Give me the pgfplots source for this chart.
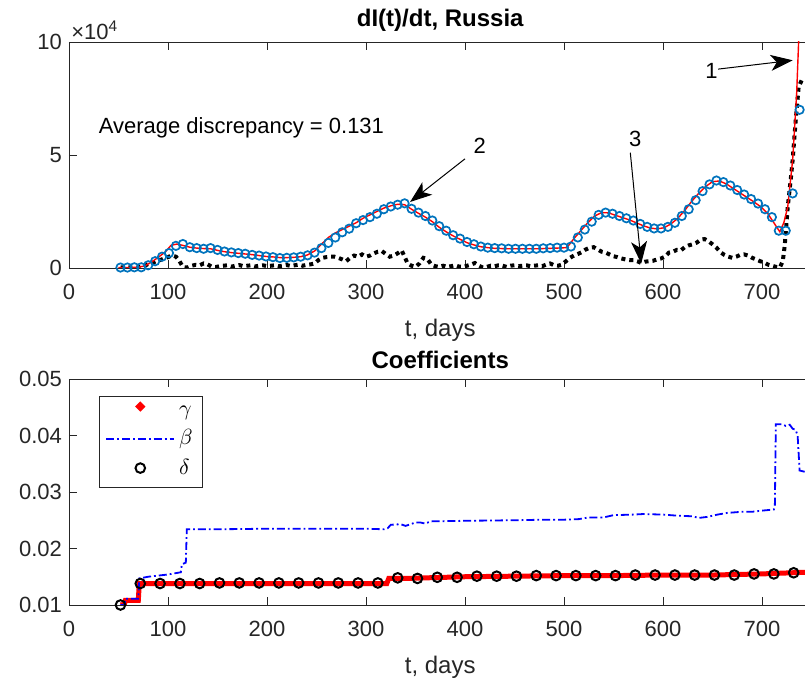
\documentclass[border=0pt]{standalone}
\usepackage{fontspec}
\setmainfont{Liberation Sans}
\usepackage{pgfplots}
\pgfplotsset{compat=1.18}
\usetikzlibrary{arrows.meta}
\definecolor{mblue}{rgb}{0.0,0.45,0.74}
\definecolor{axgray}{rgb}{0.15,0.15,0.15}

\pgfplotsset{
  myaxis/.style={
    scale only axis, width=371.25pt, height=113pt,
    xmin=0, xmax=750,
    xtick={0,100,200,300,400,500,600,700},
    ytick pos=left, xtick pos=both,
    axis line style={axgray, line width=0.4pt},
    tick style={axgray, line width=0.4pt},
    major tick length=4pt,
    minor tick num=0,
    tick label style={font=\fontsize{11}{13}\selectfont, text=axgray},
    xticklabel style={yshift=-4.5pt},
    /pgf/number format/assume math mode=true,
    label style={font=\fontsize{12}{14}\selectfont, text=axgray},
    xlabel style={yshift=-3pt},
    title style={font=\bfseries\fontsize{12}{14}\selectfont, yshift=-4.5pt},
    xlabel={t, days},
    anchor=south west,
    clip mode=individual,
    scaled ticks=false,
  }
}

\begin{document}
\begin{tikzpicture}
\begin{axis}[myaxis, at={(34.5pt,205.5pt)}, ymin=0, ymax=10, ytick={0,5,10},
  title={dI(t)/dt, Russia}]
% black dotted series
\addplot[black, line width=2pt, dash pattern=on 2pt off 2pt, line cap=butt] coordinates {
(52,0.03) (58,0.02) (64,0.03) (70,0.03) (76,0.08) (80,0.18) (84,0.22) (88,0.3) (92,0.35) (96,0.42) (100,0.48) (104,0.56) (108,0.5) (111,0.35) (114,0.12) (117,0.02) (120,0.03) (124,0.1) (128,0.14) (132,0.12) (136,0.2) (140,0.16) (144,0.06) (148,0.04) (152,0.08) (156,0.1) (160,0.12) (164,0.06) (168,0.1) (172,0.13) (176,0.08) (180,0.1) (184,0.12) (188,0.07) (192,0.1) (196,0.12) (200,0.08) (204,0.1) (208,0.12) (212,0.08) (216,0.1) (220,0.13) (224,0.09) (228,0.12) (232,0.15) (236,0.1) (240,0.14) (244,0.16) (248,0.2) (252,0.35) (256,0.45) (260,0.48) (264,0.5) (268,0.5) (272,0.45) (276,0.38) (280,0.3) (284,0.45) (288,0.55) (292,0.5) (296,0.6) (300,0.5) (304,0.55) (308,0.65) (312,0.72) (316,0.75) (320,0.62) (324,0.5) (328,0.55) (332,0.65) (336,0.78) (339,0.5) (342,0.2) (346,0.1) (350,0.05) (354,0.2) (358,0.45) (362,0.4) (366,0.15) (370,0.08) (374,0.05) (378,0.1) (382,0.05) (386,0.08) (390,0.12) (394,0.06) (398,0.05) (402,0.1) (406,0.15) (410,0.22) (414,0.1) (418,0.02) (422,0.05) (426,0.1) (430,0.08) (434,0.12) (438,0.1) (442,0.05) (446,0.1) (450,0.12) (454,0.08) (458,0.1) (462,0.12) (466,0.08) (470,0.1) (474,0.12) (478,0.08) (482,0.15) (486,0.2) (490,0.12) (494,0.1) (498,0.15) (502,0.3) (506,0.45) (510,0.55) (514,0.62) (518,0.7) (522,0.82) (526,0.9) (530,0.92) (534,0.82) (538,0.72) (542,0.68) (546,0.6) (550,0.52) (554,0.48) (558,0.42) (562,0.38) (566,0.35) (570,0.35) (574,0.3) (578,0.22) (582,0.28) (586,0.3) (590,0.32) (594,0.38) (598,0.42) (602,0.5) (606,0.68) (610,0.72) (614,0.8) (618,0.78) (622,0.92) (626,1.0) (630,1.05) (634,1.12) (638,1.25) (642,1.28) (646,1.18) (650,1.05) (654,0.9) (658,0.7) (662,0.58) (666,0.5) (670,0.45) (674,0.5) (678,0.58) (682,0.6) (686,0.55) (690,0.45) (694,0.38) (698,0.3) (702,0.25) (706,0.15) (710,0.1) (714,0.05) (718,0.02) (721,0.3) (723,1.0) (726,2.7) (729,3.9) (731,4.8) (734,6.5) (737,8.0) (740,8.3)
};
% red model line
\addplot[red, line width=0.7pt] coordinates {
(50,0.02) (60,0.02) (70,0.03) (77,0.1) (84,0.28) (91,0.5) (97,0.7) (103,1.0) (109,1.06) (115,1.0) (122,0.92) (129,0.88) (136,0.86) (143,0.85) (150,0.78) (157,0.72) (164,0.68) (171,0.65) (178,0.62) (185,0.59) (192,0.55) (199,0.51) (206,0.49) (213,0.46) (220,0.46) (227,0.47) (234,0.5) (241,0.58) (248,0.75) (255,1.05) (262,1.35) (269,1.55) (276,1.7) (283,1.85) (290,2.0) (297,2.2) (304,2.35) (311,2.5) (318,2.65) (325,2.75) (332,2.82) (339,2.8) (346,2.6) (353,2.42) (360,2.25) (367,2.05) (374,1.8) (381,1.6) (388,1.42) (395,1.27) (402,1.12) (409,1.02) (416,0.94) (423,0.9) (430,0.87) (444,0.85) (472,0.85) (493,0.88) (503,0.9) (510,1.3) (517,1.65) (524,2.0) (531,2.3) (538,2.45) (545,2.44) (552,2.33) (559,2.23) (566,2.13) (573,2.0) (580,1.87) (587,1.77) (594,1.73) (601,1.78) (608,1.95) (615,2.2) (622,2.55) (629,2.95) (636,3.3) (643,3.6) (650,3.82) (657,3.85) (664,3.72) (671,3.52) (678,3.32) (685,3.12) (692,2.92) (699,2.7) (706,2.4) (712,2.0) (718,1.6) (722,2.0) (726,2.7) (731,4.8) (735,7.7) (737,10) (742,14)
};
% blue circles data
\addplot[only marks, mark=o, mark size=2.1pt, mblue, mark options={line width=0.85pt}] coordinates {
(52,0.02) (59,0.02) (66,0.03) (73,0.03) (80,0.12) (87,0.3) (94,0.5) (101,0.66) (108,0.98) (115,1.06) (122,0.92) (129,0.88) (136,0.85) (143,0.88) (150,0.8) (157,0.73) (164,0.69) (171,0.66) (178,0.63) (185,0.58) (192,0.55) (199,0.51) (206,0.48) (213,0.44) (220,0.45) (227,0.47) (234,0.5) (241,0.56) (248,0.68) (255,0.88) (262,1.11) (269,1.35) (276,1.58) (283,1.74) (290,1.98) (297,2.12) (304,2.25) (311,2.4) (318,2.6) (325,2.72) (332,2.8) (339,2.86) (346,2.62) (353,2.45) (360,2.3) (367,2.1) (374,1.85) (381,1.65) (388,1.45) (395,1.3) (402,1.15) (409,1.05) (416,0.95) (423,0.9) (430,0.88) (437,0.87) (444,0.85) (451,0.85) (458,0.85) (465,0.85) (472,0.85) (479,0.87) (486,0.88) (493,0.9) (500,0.9) (507,0.95) (514,1.35) (521,1.7) (528,2.05) (535,2.35) (542,2.45) (549,2.4) (556,2.3) (563,2.2) (570,2.1) (577,1.95) (584,1.82) (591,1.75) (598,1.75) (605,1.82) (612,2.0) (619,2.3) (626,2.6) (633,3.0) (640,3.4) (647,3.7) (654,3.87) (661,3.8) (668,3.65) (675,3.45) (682,3.25) (689,3.05) (696,2.85) (703,2.6) (710,2.25) (717,1.65) (724,1.65) (731,3.3) (738,7.0)
};
\node[anchor=west, font=\fontsize{11}{13}\selectfont, text=black] at (axis cs:23,6.2) {Average discrepancy = 0.131};
\node[anchor=south west, font=\fontsize{11}{13}\selectfont, text=axgray, inner sep=1pt] at (rel axis cs:0,1) {×10\textsuperscript{4}};
\draw[black, line width=0.5pt, -{Stealth[length=11pt,width=8pt,inset=3pt]}] (axis cs:655.7,8.80) -- (axis cs:731,9.19);
\draw[black, line width=0.5pt, -{Stealth[length=11pt,width=8pt,inset=3pt]}] (axis cs:400,4.83) -- (axis cs:344.5,2.92);
\draw[black, line width=0.5pt, -{Stealth[length=11pt,width=8pt,inset=3pt]}] (axis cs:567,5.1) -- (axis cs:578,0.2);
\node[font=\fontsize{11}{13}\selectfont] at (axis cs:649,8.72) {1};
\node[font=\fontsize{11}{13}\selectfont] at (axis cs:415,5.42) {2};
\node[font=\fontsize{11}{13}\selectfont] at (axis cs:572,5.71) {3};
\end{axis}

\begin{axis}[myaxis, at={(34.5pt,37pt)}, ymin=0.01, ymax=0.05,
  ytick={0.01,0.02,0.03,0.04,0.05}, yticklabels={0.01,0.02,0.03,0.04,0.05},
  title={Coefficients},
  legend style={at={(0.0404,0.925)}, anchor=north west, draw=axgray, line width=0.4pt,
    font=\fontsize{11}{13}\selectfont, row sep=1.5pt, inner sep=3pt},
  legend cell align=left,
  legend image code/.code={\draw[mark repeat=2,mark phase=2,#1] plot coordinates {(0pt,0pt) (17pt,0pt) (34pt,0pt)};}]
\addplot[red, line width=2.5pt, legend image code/.code={\fill[red] (17pt,3pt) circle (0.8pt);}] coordinates {
(52,0.0100) (56,0.0101) (57,0.0108) (70,0.0108) (71,0.0138) (200,0.0138) (321,0.0138) (323,0.0147) (340,0.0147) (360,0.0148) (400,0.0150) (450,0.0151) (500,0.0152) (550,0.0152) (600,0.0153) (650,0.0153) (700,0.0155) (745,0.0158)
};
\addlegendentry{$\gamma$}
\addplot[blue, line width=0.9pt, dash pattern=on 4pt off 1.5pt on 0.9pt off 1.5pt] coordinates {
(52,0.0100) (56,0.0100) (57,0.0111) (70,0.0111) (71,0.0147) (80,0.0150) (90,0.0152) (100,0.0154) (110,0.0157) (113,0.0158) (114,0.0172) (118,0.0175) (119,0.0234) (150,0.0234) (200,0.0235) (250,0.0235) (300,0.0235) (318,0.0234) (322,0.0236) (325,0.0242) (335,0.0243) (340,0.0240) (350,0.0246) (355,0.0246) (360,0.0244) (365,0.0248) (400,0.0249) (450,0.0250) (480,0.0251) (500,0.0251) (515,0.0252) (525,0.0255) (540,0.0255) (550,0.0259) (570,0.0260) (580,0.0261) (600,0.0260) (615,0.0258) (630,0.0257) (636,0.0254) (645,0.0256) (655,0.0260) (665,0.0263) (680,0.0265) (690,0.0265) (700,0.0267) (712,0.0269) (713,0.0275) (714,0.0420) (720,0.0420) (724,0.0417) (728,0.0419) (731,0.0412) (734,0.0410) (736,0.0400) (738,0.0338) (745,0.0335)
};
\addlegendentry{$\beta$}
\addplot[only marks, mark=o, mark size=2.4pt, black, mark options={line width=1pt}] coordinates {
(52,0.0100) (72,0.0138) (92,0.0138) (112,0.0138) (132,0.0138) (152,0.0139) (172,0.0139) (192,0.0139) (212,0.0139) (232,0.0139) (252,0.0139) (272,0.0139) (292,0.0139) (312,0.0139) (332,0.0148) (352,0.0147) (372,0.0149) (392,0.0149) (412,0.0151) (432,0.0151) (452,0.0151) (472,0.0152) (492,0.0152) (512,0.0152) (532,0.0152) (552,0.0152) (572,0.0153) (592,0.0153) (612,0.0153) (632,0.0153) (652,0.0153) (672,0.0153) (692,0.0155) (712,0.0155) (732,0.0157)
};
\addlegendentry{$\delta$}
\end{axis}
\pgfresetboundingbox
\useasboundingbox (0,0) rectangle (402.5pt,339.5pt);
\end{tikzpicture}
\end{document}
